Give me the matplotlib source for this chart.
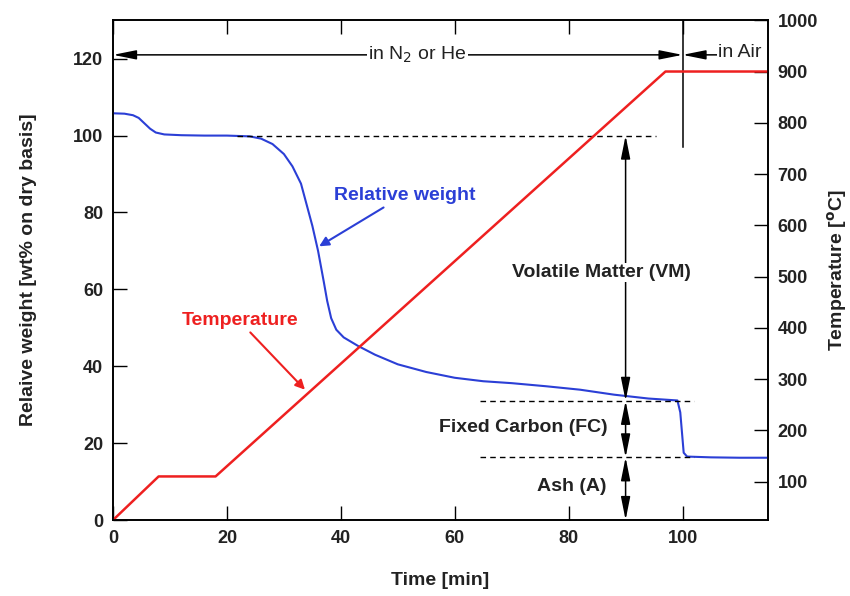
import matplotlib
matplotlib.use("Agg")
import matplotlib.pyplot as plt

plt.rcParams['font.family'] = ['Liberation Sans', 'DejaVu Sans']

# temperature program (right axis)
temp_time = [0, 8, 18, 97, 115]
temp_vals = [25, 110, 110, 900, 900]

# relative weight curve (left axis)
wt_time = [0, 2, 3.5, 4.5, 5.5, 6.5, 7.5, 9, 12, 16, 20, 24, 26, 28, 30,
           31.5, 33, 34, 35, 36, 37, 37.6, 38.3, 39.2, 40.5, 43, 46, 50, 55,
           60, 65, 70, 76, 82, 88, 94, 99.1, 99.6, 100.2, 100.8, 105, 110, 115]
wt_vals = [105.8, 105.7, 105.3, 104.6, 103.2, 101.8, 100.8, 100.3, 100.1, 100,
           100, 99.8, 99.2, 97.8, 95.2, 92.0, 87.5, 82, 76.5, 70, 62, 57, 52.5,
           49.5, 47.5, 45.3, 43, 40.5, 38.5, 37.0, 36.1, 35.6, 34.8, 33.9, 32.6,
           31.6, 31.1, 28, 17.5, 16.5, 16.3, 16.2, 16.2]

# proximate analysis levels
dry_level = 100
fc_level = 31
ash_level = 16.3
arrow_x = 90

x_ticks = [0, 20, 40, 60, 80, 100]
left_ticks = [0, 20, 40, 60, 80, 100, 120]
right_ticks = [100, 200, 300, 400, 500, 600, 700, 800, 900, 1000]

blue = '#2b3fd6'
red = '#ee2020'
txt = '#222222'
fs = 14

fig = plt.figure(figsize=(8.5, 5.96), dpi=100)
ax = fig.add_axes([0.133, 0.1275, 0.7705, 0.8385])
ax2 = ax.twinx()

ax.plot(wt_time, wt_vals, color=blue, lw=1.5, zorder=3)
ax2.plot(temp_time, temp_vals, color=red, lw=1.8)

ax.set_xlim(0, 115)
ax.set_ylim(0, 130)
ax2.set_ylim(25, 1000)

ax.set_xticks(x_ticks)
ax.set_yticks(left_ticks)
ax2.set_yticks(right_ticks)

for a in (ax, ax2):
    for s in a.spines.values():
        s.set_linewidth(1.2)
ax.tick_params(axis='x', direction='in', length=10, width=1, top=True,
               labelsize=13, labelcolor=txt, pad=7)
ax.tick_params(axis='y', direction='in', length=10, width=1,
               labelsize=13, labelcolor=txt, pad=7)
ax2.tick_params(axis='y', direction='in', length=10, width=1,
                labelsize=13, labelcolor=txt, pad=7)
for lab in ax.get_xticklabels() + ax.get_yticklabels() + ax2.get_yticklabels():
    lab.set_fontweight('bold')

ax.set_xlabel('Time [min]', fontsize=fs, fontweight='bold', color=txt, labelpad=18)
ax.set_ylabel('Relaive weight [wt% on dry basis]', fontsize=fs,
              fontweight='bold', color=txt, labelpad=26)
ax2.set_ylabel('Temperature [$^\\mathbf{o}$C]', fontsize=fs,
               fontweight='bold', color=txt, labelpad=5)

# dashed reference levels
ax.plot([21.7, 95.3], [dry_level, dry_level], 'k--', lw=1, dashes=(4, 3), zorder=4)
ax.plot([64.5, 102], [fc_level, fc_level], 'k--', lw=1, dashes=(4, 3), zorder=4)
ax.plot([64.5, 102], [ash_level, ash_level], 'k--', lw=1, dashes=(4, 3), zorder=4)

head = 'head_length=1.0,head_width=0.2'
arr = dict(arrowstyle='<|-|>,' + head, color='k', lw=1.1, mutation_scale=14,
           shrinkA=0, shrinkB=0)
ax.annotate('', xy=(arrow_x, dry_level), xytext=(arrow_x, fc_level), arrowprops=arr)
ax.annotate('', xy=(arrow_x, fc_level), xytext=(arrow_x, ash_level), arrowprops=arr)
ax.annotate('', xy=(arrow_x, ash_level), xytext=(arrow_x, 0), arrowprops=arr)

bb = dict(facecolor='white', edgecolor='none', pad=1)
ax.text(85.7, 64.4, 'Volatile Matter (VM)', ha='center', va='center',
        fontsize=fs, fontweight='bold', color=txt, bbox=bb, zorder=5)
ax.text(86.8, 24, 'Fixed Carbon (FC)', ha='right', va='center',
        fontsize=fs, fontweight='bold', color=txt)
ax.text(86.6, 8.6, 'Ash (A)', ha='right', va='center',
        fontsize=fs, fontweight='bold', color=txt)

# atmosphere arrows on top
ax.plot([100, 100], [97, 130], color='k', lw=1.1)
ax.annotate('', xy=(0, 121), xytext=(100, 121), arrowprops=arr)
ax.annotate('', xy=(100, 121), xytext=(112, 121),
            arrowprops=dict(arrowstyle='-|>,' + head, color='k', lw=1.1,
                            mutation_scale=14, shrinkA=0, shrinkB=0))
ax.text(53.4, 121, 'in N$_2$ or He', ha='center', va='center', fontsize=fs,
        color=txt, bbox=bb, zorder=5)
ax.text(110.1, 121.6, 'in Air', ha='center', va='center', fontsize=fs,
        color=txt, bbox=bb, zorder=5)

# curve labels
ax.text(51.3, 84.5, 'Relative weight', ha='center', va='center', fontsize=fs,
        fontweight='bold', color=blue)
ax.annotate('', xy=(36.2, 71.2), xytext=(47.5, 81.3),
            arrowprops=dict(arrowstyle='-|>', color=blue, lw=1.5,
                            mutation_scale=14, shrinkA=0, shrinkB=0))
ax.text(22.3, 51.8, 'Temperature', ha='center', va='center', fontsize=fs,
        fontweight='bold', color=red)
ax.annotate('', xy=(33.7, 33.9), xytext=(24.1, 48.8),
            arrowprops=dict(arrowstyle='-|>', color=red, lw=1.5,
                            mutation_scale=14, shrinkA=0, shrinkB=0))

fig.savefig('out.png', dpi=100)
